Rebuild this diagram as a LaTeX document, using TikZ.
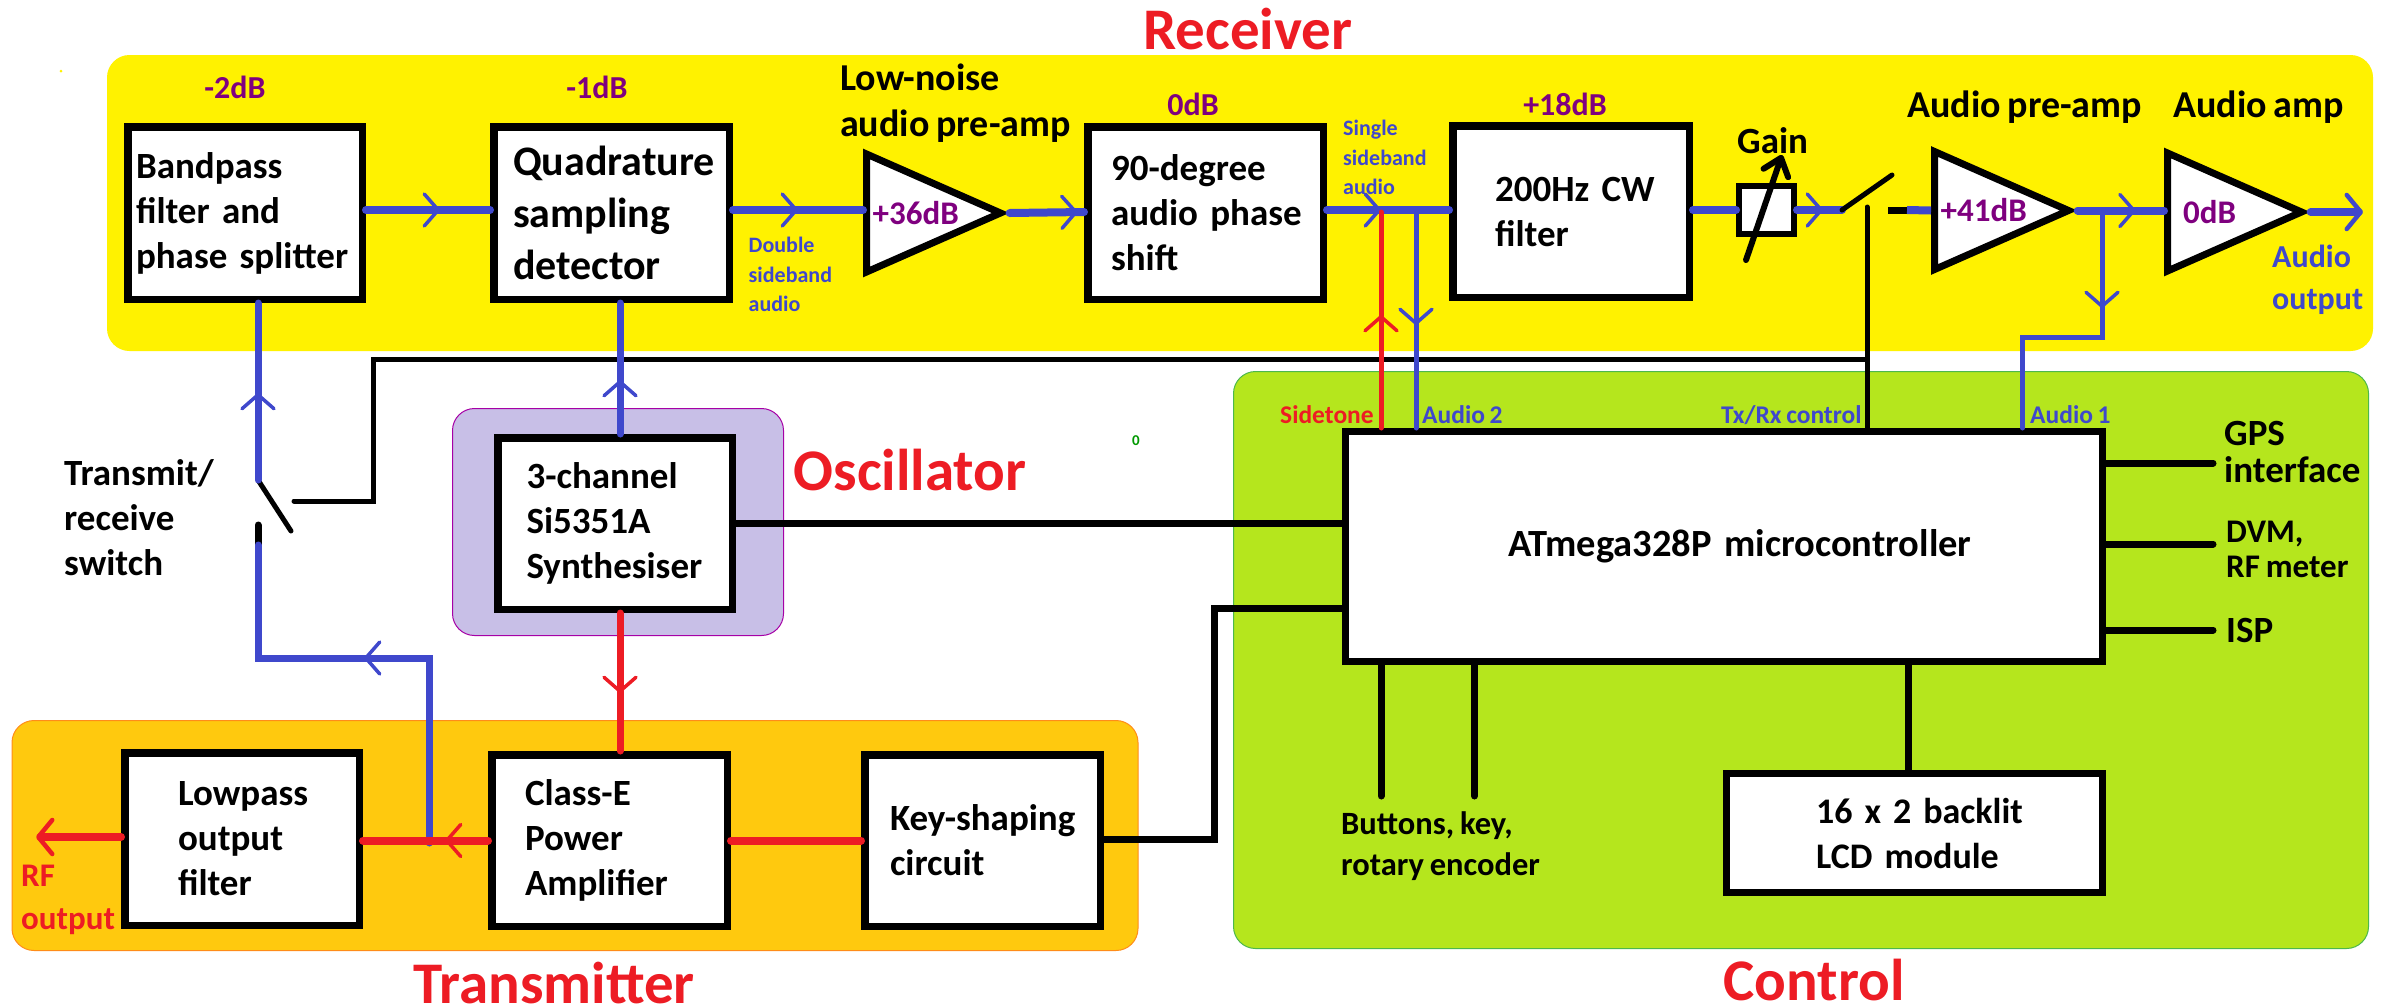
\documentclass[tikz,border=0pt]{standalone}
\usepackage{fontspec}
\setmainfont{Carlito}[WordSpace=0.8]
\usetikzlibrary{arrows.meta,decorations.markings,shapes.geometric}
\definecolor{cblue}{HTML}{3F48CC}
\definecolor{cred}{HTML}{ED1C24}
\definecolor{cyel}{HTML}{FFF200}
\definecolor{corg}{HTML}{FFC90E}
\definecolor{cgrn}{HTML}{B5E61D}
\definecolor{clil}{HTML}{C8BFE7}
\definecolor{cpur}{HTML}{7F007F}
\tikzset{
  x=1pt,y=-1pt,
  fnt/.style n args={2}{font=\fontsize{#1}{#2}\selectfont\bfseries},
  region/.style={rectangle,rounded corners=22pt,anchor=north west,inner sep=0pt,line width=1pt},
  box/.style={rectangle,draw=black,fill=white,line width=7.5pt,anchor=north west,inner sep=0pt,align=left,fnt={37}{45}},
  amp/.style={isosceles triangle,isosceles triangle stretches,draw=black,fill=white,line width=7pt,inner sep=0pt,anchor=lower side,fnt={33}{40},text=cpur},
  lab/.style={anchor=west,inner sep=0pt,align=left,fnt={37}{45}},
  title/.style={inner sep=0pt,text=cred,fnt={#1}{#1}},
  gaintxt/.style={inner sep=0pt,text=cpur,fnt={32}{36}},
  note/.style={anchor=west,inner sep=0pt,align=left,text=cblue,fnt={22}{29.5}},
  tagtxt/.style={anchor=west,inner sep=0pt,text=cblue,fnt={25.5}{30}},
  barb/.style={Straight Barb[length=14pt,width=32pt,line width=4pt,round]},
  head/.style={postaction={decorate,decoration={markings,mark=at position #1 with {\arrow{Straight Barb[length=14pt,width=32pt,line width=3.5pt,round]}}}}},
  endhead/.style={-{Straight Barb[length=14pt,width=34pt,line width=4.5pt,round]}},
  wblue/.style={draw=cblue,line width=8pt,line cap=round},
  wred/.style={draw=cred,line width=8pt,line cap=round},
  tblue/.style={draw=cblue,line width=5pt,line cap=round},
  tred/.style={draw=cred,line width=5pt,line cap=round},
  wblack/.style={draw=black,line width=7pt,line cap=round},
  tblack/.style={draw=black,line width=5pt,line cap=round},
}
\begin{document}
\begin{tikzpicture}
\path[use as bounding box] (0,0) rectangle (2392,1005);

% Regions
\node[region,fill=cyel,draw=cyel,minimum width=2265pt,minimum height=295pt] (rx) at (107,55) {};
\node[region,fill=cgrn,draw=green!60!black!70,minimum width=1135pt,minimum height=577pt] (ctl) at (1233,371) {};
\node[region,fill=corg,draw=orange!90,minimum width=1126pt,minimum height=230pt] (tx) at (11.5,720) {};
\node[region,fill=clil,draw=violet!70!magenta,minimum width=331pt,minimum height=227pt] (osc) at (452,408) {};

% Titles
\node[title=59] (trx) at (1248,29) {Receiver};
\node[title=59] (tos) at (910,470) {Oscillator};
\node[title=59] (ttx) at (554,983) {Transmitter};
\node[title=59] (tct) at (1814,980) {Control};

% Free ends and corners
\coordinate (swA) at (258,480);
\coordinate (swB) at (291,531);
\coordinate (swC) at (294,501);
\coordinate (swD) at (258,525);
\coordinate (swE) at (258,545);
\coordinate (ctlk) at (373,359);
\coordinate (feed) at (620,400);
\coordinate (rsw) at (1842,210);
\coordinate (rswb) at (1892,175);
\coordinate (rswc) at (1888,210);
\coordinate (rswd) at (1907,210);
\coordinate (rswt) at (1867,207);
\coordinate (st) at (1381,212);
\coordinate (au2) at (1416,212);
\coordinate (au1) at (2102,210);
\coordinate (jog) at (2022.5,337);
\coordinate (txk) at (429,658);
\coordinate (txt) at (429,843);
\coordinate (rfo) at (36,837);
\coordinate (aout) at (2363,212);
\coordinate (gA) at (1746,260);
\coordinate (gB) at (1782,155);
\coordinate (ks1) at (1214,839);
\coordinate (ks2) at (1214,608);
\coordinate (gps) at (2213,463);
\coordinate (dvm) at (2213,544);
\coordinate (isp) at (2213,630);
\coordinate (bt1) at (1381,796);
\coordinate (bt2) at (1474.5,796);
\coordinate (lcdl) at (1908.5,700);

% Black control wires below the signal wires
\draw[tblack] (swC) -| (ctlk) -- (ctlk -| rswt);
\draw[tblack] (rswt) -- (1867,428);
\draw[wblack] (swD) -- (swE);
\draw[tblack] (swA) -- (swB);

% Boxes
\node[box,minimum width=234.5pt,minimum height=172.5pt,text width=218pt] (bp) at (124,123) {Bandpass\\filter and\\phase splitter};
\node[box,minimum width=235.5pt,minimum height=172.5pt,text width=197pt,fnt={42}{52}] (qsd) at (490,123) {\mbox{Quadrature}\\sampling\\detector};
\node[box,minimum width=235.5pt,minimum height=172.5pt,text width=189pt] (ps) at (1084,123) {90-degree\\\mbox{audio phase}\\shift};
\node[box,minimum width=236.5pt,minimum height=171.5pt,text width=152pt] (cw) at (1449,122) {\mbox{200Hz CW}\\filter};
\node[box,minimum width=55pt,minimum height=48pt,line width=6pt] (gain) at (1736,183) {};
\node[box,minimum width=234.5pt,minimum height=171.5pt,text width=177pt] (syn) at (494,434) {3-channel\\Si5351A\\\mbox{Synthesiser}};
\node[box,minimum width=234.5pt,minimum height=172.5pt,text width=128pt] (lp) at (121,749) {Lowpass\\output\\filter};
\node[box,minimum width=235.5pt,minimum height=171.5pt,text width=169pt] (pa) at (488,751) {Class-E\\Power\\Amplifier};
\node[box,minimum width=235.5pt,minimum height=171.5pt,text width=185pt] (ks) at (861,751) {\mbox{Key-shaping}\\circuit};
\node[box,minimum width=757pt,minimum height=230pt,text width=432pt,line width=7pt,fnt={38.5}{45}] (atm) at (1342,428) {\mbox{ATmega328P microcontroller}};
\node[box,minimum width=376pt,minimum height=119pt,text width=197pt,line width=7pt,fnt={36}{45}] (lcd) at (1723,770) {\mbox{16 x 2 backlit}\\LCD module};

% Amplifiers
\node[amp,minimum width=118pt,minimum height=134pt] (a1) at (863,213) {+36dB};
\node[amp,minimum width=118pt,minimum height=134pt] (a2) at (1931,210.5) {+41dB};
\node[amp,minimum width=118pt,minimum height=134pt] (a3) at (2164,212) {0dB};

% Receiver signal path
\draw[wblue,head=74pt] ([yshift=3pt]bp.east) -- ([yshift=3pt]qsd.west);
\draw[wblue,head=65pt] ([yshift=3pt]qsd.east) -- ([yshift=3pt]a1.lower side);
\draw[wblue,head=68pt] (a1.apex) -- ([yshift=1pt]ps.west);
\draw[wblue,head=54pt] ([yshift=3pt]ps.east) -- ([yshift=1.5pt]cw.west);
\draw[wblue] ([yshift=1.5pt]cw.east) -- (gain.west);
\draw[wblue,head=26pt] (gain.east) -- (rsw);
\draw[wblack,line cap=butt] (rswc) -- (rswd);
\draw[wblue,line cap=butt] (rswd) -- (a2.lower side);
\draw[wblue,head=58pt] (a2.apex) -- (a3.lower side |- a2.apex);
\draw[wblue,endhead] (a3.apex) -- (aout);
\draw[tblack] (rsw) -- (rswb);
\draw[draw=black,line width=6pt,line cap=round,-{Straight Barb[length=16pt,width=26pt,line width=6pt,round]}] (gA) -- (gB);

% Blue RF paths
\draw[tblue,line width=7pt,head=87pt] (swA) -- (swA |- bp.south);
\draw[tblue,line width=7pt,head=54pt] (feed |- syn.north) -- (feed |- qsd.south);
\draw[tblue,line width=7pt,line join=miter,head=250pt] (txt) -- (txk) -- (txk -| swE) -- (swE);

% Red transmit path
\draw[tred,line width=7pt,head=80pt] (feed |- syn.south) -- (feed |- pa.north);
\draw[wred] (ks.west) -- (pa.east);
\draw[wred,head=43pt] (pa.west) -- (lp.east |- pa.west);
\draw[wred,endhead] (rfo -| lp.west) -- (rfo);

% Sidetone and audio taps
\draw[tred,head=113pt] (st |- atm.north) -- (st);
\draw[tblue,line width=5pt,head=113pt] (au2) -- (au2 |- atm.north);
\draw[tblue,line width=5pt,head=98pt] (au1) |- (jog) -- (jog |- atm.north);

% Control wires
\draw[wblack] (syn.east) -- (syn.east -| atm.west);
\draw[wblack,line join=miter] (ks1 -| ks.east) -- (ks1) -- (ks2) -- (ks2 -| atm.west);
\draw[wblack] (gps -| atm.east) -- (gps);
\draw[wblack] (dvm -| atm.east) -- (dvm);
\draw[wblack] (isp -| atm.east) -- (isp);
\draw[tblack,line width=7pt] (bt1 |- atm.south) -- (bt1);
\draw[tblack,line width=7pt] (bt2 |- atm.south) -- (bt2);
\draw[tblack,line width=7pt,line cap=butt] (lcdl |- atm.south) -- (lcdl |- lcd.north);

% Labels
\node[lab] (lsw) at (64,518) {Transmit/\\receive\\switch};
\node[lab,fnt={38}{46}] (lln) at (840,103) {Low-noise\\audio pre-amp};
\node[lab,fnt={38}{45}] (lpre) at (1907,107) {Audio pre-amp};
\node[lab,fnt={38}{45}] (lamp) at (2173,107) {Audio amp};
\node[lab] (lg) at (1737,141) {Gain};
\node[lab,fnt={37}{37}] (lgps) at (2224,451.5) {GPS\\interface};
\node[lab,fnt={33}{35}] (ldvm) at (2226,549.5) {DVM,\\RF meter};
\node[lab,fnt={37}{37}] (lisp) at (2226,630) {ISP};
\node[lab,fnt={32.5}{41}] (lbt) at (1341,846.5) {Buttons, key,\\rotary encoder};
\node[gaintxt] (g1) at (235,87) {-2dB};
\node[gaintxt] (g2) at (597,87) {-1dB};
\node[gaintxt] (g3) at (1193,104) {0dB};
\node[gaintxt] (g4) at (1565,104) {+18dB};
\node[note] (nd) at (748.5,274.5) {Double\\sideband\\audio};
\node[note] (ns) at (1343,157.5) {Single\\sideband\\audio};
\node[tagtxt,text=cred] (nst) at (1280,415) {Sidetone};
\node[tagtxt] (na2) at (1422,415) {Audio 2};
\node[tagtxt] (ntx) at (1721,415) {Tx/Rx control};
\node[tagtxt] (na1) at (2030,415) {Audio 1};
\node[note,fnt={32}{42}] (nao) at (2272,280) {Audio\\output};
\node[note,text=cred,fnt={33}{43}] (nrf) at (21,899.5) {RF\\output};
\node[inner sep=0pt,text=green!60!black,fnt={15}{15}] (stray) at (1136,441) {0};
\fill[cyel] (61,71) circle (1.5pt);
\end{tikzpicture}
\end{document}
